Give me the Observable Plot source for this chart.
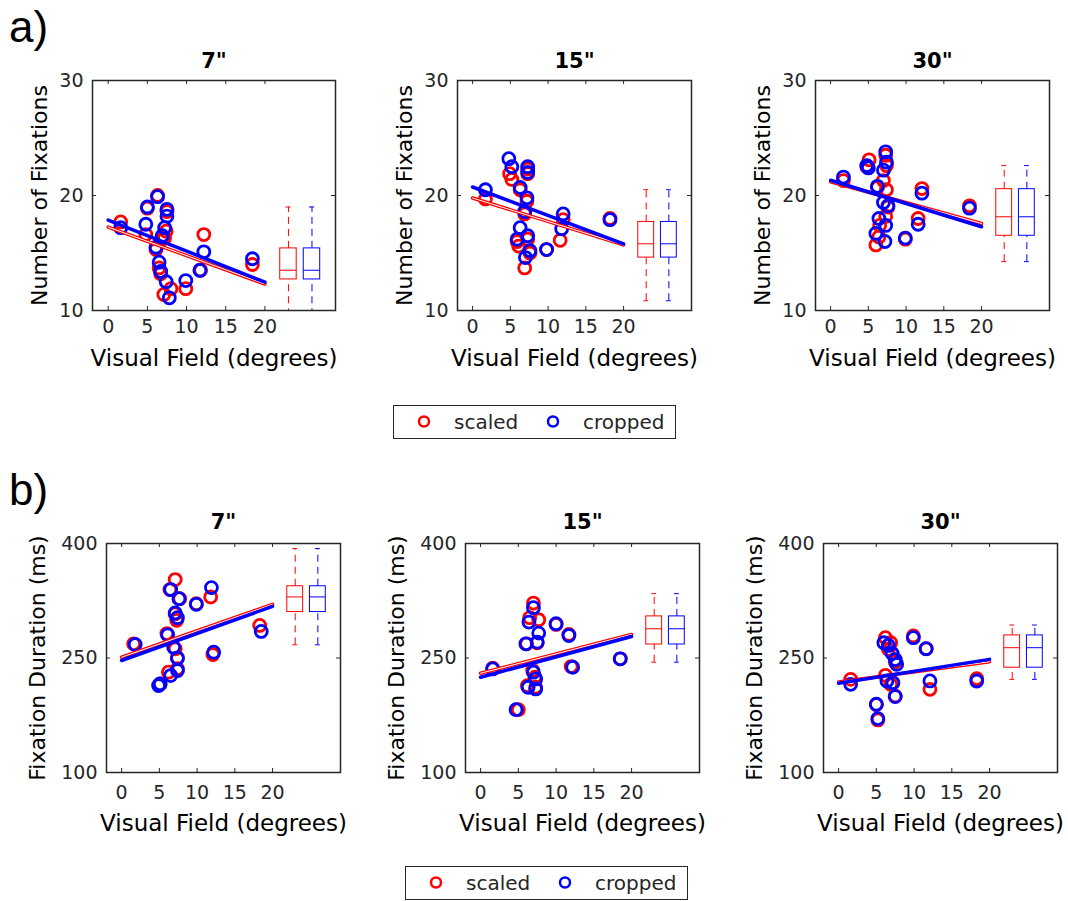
<!DOCTYPE html>
<html><head><meta charset="utf-8">
<script src="https://cdn.jsdelivr.net/npm/d3@7"></script>
<script src="https://cdn.jsdelivr.net/npm/@observablehq/plot@0.6"></script>
<style>
body{margin:0;background:#fff;}
#root{position:relative;width:1068px;height:901px;overflow:hidden;font-family:"DejaVu Sans",sans-serif;color:#262626;background:#fff;}
.panel{position:absolute;}
.tag{position:absolute;font-family:"Liberation Sans",Arial,sans-serif;font-size:44px;color:#000;line-height:1;}
.legend{position:absolute;border:1.5px solid #262626;box-sizing:border-box;background:#fff;}
.legend span{position:absolute;font-size:20px;line-height:20px;top:6px;color:#262626;}
.legend svg{position:absolute;top:0;}
</style></head><body><div id="root"></div>
<script>
// ---------- data ----------
const RED = "#ff0000", BLUE = "#0000ff";
const xTicks = [0, 5, 10, 15, 20];
const xDomain = [-2, 29];
const fitX = [0, 20];
const boxPos = [23, 26];           // scaled, cropped box positions on x
const fixTicks = [10, 20, 30];
const durTicks = [100, 250, 400];
const screens = ['7"', '15"', '30"'];

// (a) Number of fixations: [visual field, value]
const fixScaled7 = [[1.6,17.7],[5.0,18.9],[4.8,16.6],[6.3,20.0],[7.5,18.6],[7.4,16.9],[7.2,16.3],[6.9,16.2],[6.1,15.3],[6.5,13.7],[6.7,13.2],[7.1,11.4],[8.0,11.9],[9.9,11.9],[11.8,13.5],[12.2,16.6],[18.4,14.0]];
const fixCropped7 = [[1.6,17.2],[5.0,19.0],[4.8,17.5],[6.3,19.9],[7.5,18.8],[7.5,18.2],[7.2,17.2],[6.9,16.5],[6.1,15.5],[6.5,14.2],[6.7,13.4],[7.4,12.5],[7.8,11.1],[9.9,12.6],[11.7,13.5],[12.2,15.1],[18.4,14.5]];
const fixScaled15 = [[1.7,19.7],[4.9,21.9],[5.2,21.4],[7.3,21.9],[7.3,22.3],[6.3,20.5],[7.2,19.5],[6.9,18.4],[12.0,17.9],[11.6,16.1],[18.2,18.0],[6.1,15.6],[5.9,16.0],[7.3,16.2],[9.8,15.3],[7.6,15.0],[6.9,13.7]];
const fixCropped15 = [[1.7,20.5],[4.8,23.2],[5.2,22.5],[7.3,22.5],[7.3,22.0],[6.3,20.7],[7.2,19.8],[6.9,18.6],[12.0,18.4],[11.8,17.1],[18.2,17.9],[6.3,17.2],[5.9,16.2],[7.3,16.5],[9.8,15.3],[7.6,15.2],[7.0,14.6]];
const fixScaled30 = [[1.7,21.3],[5.1,23.1],[4.8,22.5],[7.0,21.3],[6.2,20.7],[7.4,20.5],[7.6,19.0],[7.3,18.2],[6.5,17.4],[6.4,16.4],[6.0,15.7],[12.1,20.6],[11.6,18.0],[18.4,19.1],[7.3,23.5],[7.4,22.6],[9.9,16.2]];
const fixCropped30 = [[1.7,21.6],[4.8,22.6],[5.0,22.4],[7.3,23.8],[7.4,22.9],[7.0,22.2],[6.2,20.8],[7.0,19.4],[7.6,19.1],[6.4,18.0],[7.3,17.4],[6.0,16.7],[7.2,16.0],[9.9,16.3],[12.1,20.2],[11.6,17.5],[18.4,18.9]];

// (b) Fixation duration (ms)
const durScaled7 = [[7.1,352.7],[6.4,339.6],[7.7,327.7],[9.9,321.2],[11.8,329.9],[7.1,308],[7.3,299.3],[1.6,268.6],[7.1,262],[12.1,254.6],[7.4,250.2],[6.2,231.4],[5.1,216],[18.3,292.7],[7.4,236],[6.0,282]];
const durCropped7 = [[6.5,339.6],[7.6,327.7],[9.9,320.3],[11.9,342.2],[7.1,309],[7.4,302.8],[1.8,267.7],[6.1,280.4],[6.9,264.2],[7.4,249.8],[12.2,257.6],[7.4,233.6],[6.5,227],[5.1,216],[4.9,213.9],[18.5,284.8]];
const durScaled15 = [[7.0,322],[6.5,302.8],[7.7,300.1],[10.0,294],[11.7,280.9],[6.1,268.6],[1.6,236.6],[6.9,233.6],[7.2,224.8],[6.2,213.8],[7.3,211.7],[5.0,182.3],[12.0,238.8],[18.5,248.9],[7.5,270]];
const durCropped15 = [[7.0,315.9],[6.4,297.1],[7.7,282.6],[7.5,270.8],[6.0,268.6],[10.0,294.9],[11.7,279.5],[1.6,235.7],[7.0,231.4],[7.3,222.6],[6.3,211.7],[7.3,209.5],[4.7,182.3],[12.2,237.9],[18.5,248.9]];
const durScaled30 = [[6.2,276.6],[6.9,270],[9.9,278.8],[1.6,222],[6.2,227.3],[6.9,215.5],[7.5,200.3],[12.1,209],[5.2,168.9],[18.3,223],[6.6,261.3],[7.5,245],[11.6,262],[5.0,189]];
const durCropped30 = [[6.0,270],[6.6,266.5],[7.1,256],[7.5,248],[7.7,241.7],[9.9,276.6],[11.6,262.2],[1.6,215.5],[6.4,219.9],[7.2,217.7],[7.5,199.4],[12.1,220],[5.0,189.4],[5.2,170.6],[18.3,219.9]];

// regression line values at x = 0 and x = 20
const fitFixScaled = [[17.25,12.3],[19.78,15.7],[21.2,17.57]];
const fitFixCropped = [[17.86,12.47],[20.74,15.8],[21.33,17.28]];
const fitDurScaled = [[251,320.3],[230,280.9],[218.6,245.2]];
const fitDurCropped = [[246.7,317.7],[224.8,278.2],[216.8,248.2]];

// box plot stats: [lower whisker, q1, median, q3, upper whisker]
const boxFix = [[8.5,12.7,13.5,15.4,19.0],[10.85,14.6,15.8,17.7,20.5],[14.25,16.5,18.15,20.55,22.6]];
const boxDur = [[267.3,310.2,330,344,393.4],[244.5,267.7,288.3,304.5,334.3],[222,237.3,263.5,279.6,293.2]];

// ---------- drawing ----------
const INK = "#262626";
function panel(cfg){
  const {title, ylabel, yDomain, yTicks, scaled, cropped, fitS, fitC, stats, frameW, frameH, ylabelOffset, tickPad, xlabelDy, titleDy} = cfg;
  const ML = 90, MR = 10, MT = 45, MB = 65;
  const boxes = [{x: boxPos[0], s: stats, c: RED}, {x: boxPos[1], s: stats, c: BLUE}];
  const lineS = fitX.map((x, i) => ({x, y: fitS[i]}));
  const lineC = fitX.map((x, i) => ({x, y: fitC[i]}));
  const hw = 1.05, cw = 0.32;
  return Plot.plot({
    width: ML + frameW + MR, height: MT + frameH + MB,
    marginLeft: ML, marginRight: MR, marginTop: MT, marginBottom: MB,
    x: {domain: xDomain}, y: {domain: yDomain},
    style: {fontFamily: '"DejaVu Sans", sans-serif', color: INK, background: "transparent", overflow: "visible"},
    marks: [
      Plot.axisX({ticks: xTicks, tickSize: 0, tickPadding: tickPad, fontSize: 19, label: null, fill: INK}),
      Plot.axisY({ticks: yTicks, tickSize: 0, tickPadding: 9, fontSize: 19, label: null, fill: INK}),
      Plot.tickX(xTicks, {x: d => d, insetTop: frameH - 4, stroke: INK}),
      Plot.tickX(xTicks, {x: d => d, insetBottom: frameH - 4, stroke: INK}),
      Plot.tickY(yTicks, {y: d => d, insetRight: frameW - 4, stroke: INK}),
      Plot.tickY(yTicks, {y: d => d, insetLeft: frameW - 4, stroke: INK}),
      Plot.dot(scaled, {x: d => d[0], y: d => d[1], r: 6, stroke: RED, strokeWidth: 2.8, fill: "none"}),
      Plot.dot(cropped, {x: d => d[0], y: d => d[1], r: 6, stroke: BLUE, strokeWidth: 2.8, fill: "none"}),
      Plot.line(lineS, {x: "x", y: "y", stroke: RED, strokeWidth: 3.5}),
      Plot.line(lineS, {x: "x", y: "y", stroke: "#fff", strokeWidth: 1}),
      Plot.line(lineC, {x: "x", y: "y", stroke: BLUE, strokeWidth: 3.5}),
      // box plots
      Plot.ruleX(boxes, {x: "x", y1: d => d.s[0], y2: d => d.s[1], stroke: "c", strokeWidth: 1, strokeDasharray: "7,5", clip: true}),
      Plot.ruleX(boxes, {x: "x", y1: d => d.s[3], y2: d => d.s[4], stroke: "c", strokeWidth: 1, strokeDasharray: "7,5", clip: true}),
      Plot.ruleY(boxes.filter(d => d.s[0] >= yDomain[0]), {y: d => d.s[0], x1: d => d.x - cw, x2: d => d.x + cw, stroke: "c", strokeWidth: 1}),
      Plot.ruleY(boxes, {y: d => d.s[4], x1: d => d.x - cw, x2: d => d.x + cw, stroke: "c", strokeWidth: 1}),
      Plot.rect(boxes, {x1: d => d.x - hw, x2: d => d.x + hw, y1: d => d.s[1], y2: d => d.s[3], stroke: "c", fill: "none", strokeWidth: 1}),
      Plot.ruleY(boxes, {y: d => d.s[2], x1: d => d.x - hw, x2: d => d.x + hw, stroke: "c", strokeWidth: 1}),
      Plot.frame({stroke: INK, strokeWidth: 1.5}),
      Plot.text([title], {text: d => d, frameAnchor: "top", lineAnchor: "middle", dy: titleDy, fontSize: 21, fontWeight: "bold", fill: "#000"}),
      Plot.text(["Visual Field (degrees)"], {text: d => d, frameAnchor: "bottom", lineAnchor: "middle", dy: xlabelDy, fontSize: 23, fill: "#000"}),
      Plot.text([ylabel], {text: d => d, frameAnchor: "left", textAnchor: "middle", lineAnchor: "middle", dx: -ylabelOffset, rotate: -90, fontSize: 22, fill: "#000"})
    ]
  });
}

const root = document.getElementById("root");
function place(el, left, top){ const d = document.createElement("div"); d.className = "panel"; d.style.left = left + "px"; d.style.top = top + "px"; d.appendChild(el); root.appendChild(d); }

const fixScaled = [fixScaled7, fixScaled15, fixScaled30];
const fixCropped = [fixCropped7, fixCropped15, fixCropped30];
const durScaled = [durScaled7, durScaled15, durScaled30];
const durCropped = [durCropped7, durCropped15, durCropped30];

const aFrames = [[92, 243], [457, 234], [815, 234]];
const bFrames = [[106, 234], [465, 234], [823, 234]];
screens.forEach((t, i) => {
  place(panel({title: t, ylabel: "Number of Fixations", yDomain: [10, 30], yTicks: fixTicks,
    scaled: fixScaled[i], cropped: fixCropped[i], fitS: fitFixScaled[i], fitC: fitFixCropped[i], stats: boxFix[i],
    frameW: aFrames[i][1], frameH: 230, ylabelOffset: 53, tickPad: 9, xlabelDy: 48, titleDy: -19}), aFrames[i][0] - 90, 80 - 45);
  place(panel({title: t, ylabel: "Fixation Duration (ms)", yDomain: [100, 400], yTicks: durTicks,
    scaled: durScaled[i], cropped: durCropped[i], fitS: fitDurScaled[i], fitC: fitDurCropped[i], stats: boxDur[i],
    frameW: bFrames[i][1], frameH: 229, ylabelOffset: 69, tickPad: 13, xlabelDy: 51, titleDy: -21}), bFrames[i][0] - 90, 543 - 45);
});

function tag(text, left, top){ const d = document.createElement("div"); d.className = "tag"; d.textContent = text; d.style.left = left + "px"; d.style.top = top + "px"; root.appendChild(d); }
tag("a)", 9, 5);
tag("b)", 9, 468);

function legend(left, top){
  const L = document.createElement("div"); L.className = "legend";
  Object.assign(L.style, {left: left + "px", top: top + "px", width: "283px", height: "34px"});
  const items = [["scaled", RED, 30, 60], ["cropped", BLUE, 159, 189]];
  for (const [label, color, cx, tx] of items) {
    const s = document.createElementNS("http://www.w3.org/2000/svg", "svg");
    s.setAttribute("width", 20); s.setAttribute("height", 31);
    s.style.left = (cx - 10) + "px";
    s.innerHTML = `<circle cx="10" cy="15.5" r="5" fill="none" stroke="${color}" stroke-width="2.5"/>`;
    L.appendChild(s);
    const sp = document.createElement("span"); sp.textContent = label; sp.style.left = tx + "px"; L.appendChild(sp);
  }
  root.appendChild(L);
}
legend(393, 405);
legend(405, 866);
</script></body></html>
